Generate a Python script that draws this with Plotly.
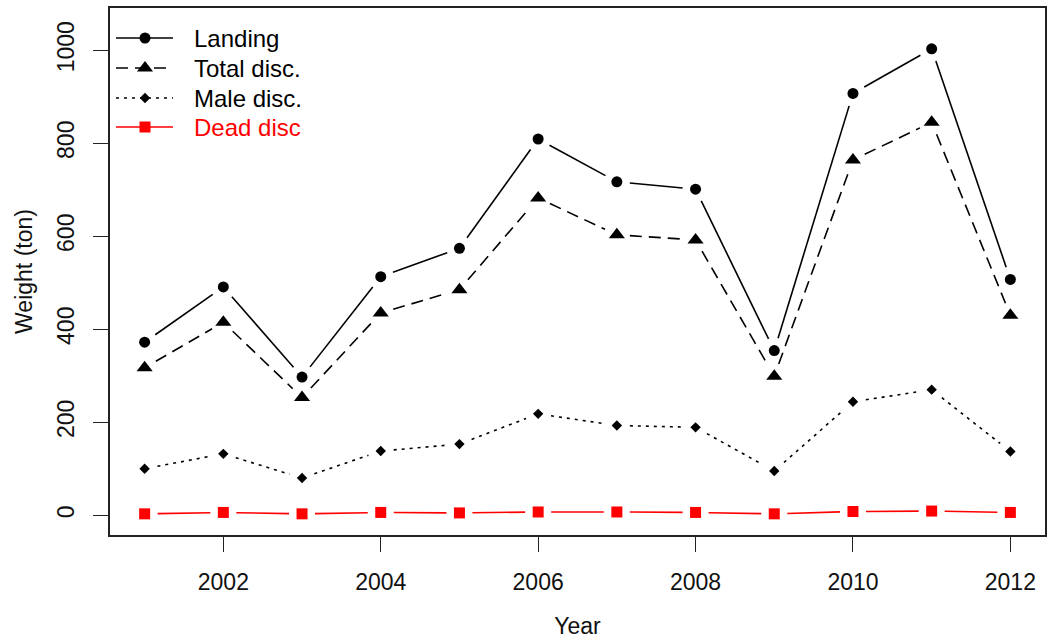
import math
import plotly.graph_objects as go

years = [2001, 2002, 2003, 2004, 2005, 2006, 2007, 2008, 2009, 2010, 2011, 2012]
landing = [372, 491, 297, 513, 574, 809, 717, 701, 354, 907, 1003, 507]
total_disc = [317, 415, 253, 435, 485, 682, 603, 592, 299, 764, 845, 430]
male_disc = [100, 132, 80, 138, 153, 218, 193, 189, 95, 244, 270, 137]
dead_disc = [3, 6, 3, 6, 5, 7, 7, 6, 3, 8, 9, 6]

series_names = ["Landing", "Total disc.", "Male disc.", "Dead disc"]
series_values = [landing, total_disc, male_disc, dead_disc]
colors = ["#000000", "#000000", "#000000", "#FF0000"]
dashes = ["solid", "12px,7px", "3px,5px", "solid"]
symbols = ["circle", "triangle-up", "diamond", "square"]
sizes = [11, 14, 8, 11]

FONT = "Liberation Sans, Arial, sans-serif"
W, H = 1049, 640
ML, MR, MT, MB = 110, 4, 8, 105
XR = [2000.56, 2012.44]
YR = [-42.5, 1090.7]
GAP = 13  # px gap between point and line ends (R type="b")

sx = (W - ML - MR) / (XR[1] - XR[0])
sy = (H - MT - MB) / (YR[1] - YR[0])


def gapped(xs, ys):
    gx, gy = [], []
    for i in range(len(xs) - 1):
        dx = (xs[i + 1] - xs[i]) * sx
        dy = (ys[i + 1] - ys[i]) * sy
        d = math.hypot(dx, dy)
        if d <= 2 * GAP:
            continue
        f = GAP / d
        gx += [xs[i] + (xs[i + 1] - xs[i]) * f, xs[i + 1] - (xs[i + 1] - xs[i]) * f, None]
        gy += [ys[i] + (ys[i + 1] - ys[i]) * f, ys[i + 1] - (ys[i + 1] - ys[i]) * f, None]
    return gx, gy


fig = go.Figure()

for name, vals, c, d, s, sz in zip(series_names, series_values, colors, dashes, symbols, sizes):
    gx, gy = gapped(years, vals)
    fig.add_trace(go.Scatter(x=gx, y=gy, mode="lines", name=name,
                             line=dict(color=c, width=1.6, dash=d),
                             showlegend=False, hoverinfo="skip"))
    fig.add_trace(go.Scatter(x=years, y=vals, mode="markers", name=name,
                             marker=dict(color=c, size=sz, symbol=s),
                             showlegend=False))

# manual legend on overlay pixel axes
leg_y = [38, 68, 98, 127]
for name, c, d, s, sz, ly in zip(series_names, colors, dashes, symbols, sizes, leg_y):
    fig.add_trace(go.Scatter(x=[116, 173], y=[ly, ly], mode="lines", xaxis="x2", yaxis="y2",
                             line=dict(color=c, width=1.6, dash=d),
                             showlegend=False, hoverinfo="skip"))
    fig.add_trace(go.Scatter(x=[145], y=[ly], mode="markers", xaxis="x2", yaxis="y2",
                             marker=dict(color=c, size=sz, symbol=s),
                             showlegend=False, hoverinfo="skip"))
    fig.add_annotation(x=192, y=ly, xref="x2", yref="y2", text=name, showarrow=False,
                       xanchor="left", yanchor="middle",
                       font=dict(family=FONT, size=24, color=c))

axis_common = dict(showgrid=False, zeroline=False, showline=True, linecolor="#222222",
                   linewidth=1.5, mirror=True, ticks="outside", ticklen=15,
                   tickwidth=1.3, tickcolor="#222222", automargin=False,
                   tickfont=dict(family=FONT, size=23, color="#111111"))

fig.update_layout(
    width=W, height=H,
    margin=dict(l=ML, r=MR, t=MT, b=MB, autoexpand=False),
    paper_bgcolor="white", plot_bgcolor="white",
    showlegend=False,
    xaxis=dict(range=XR, tickvals=[2002, 2004, 2006, 2008, 2010, 2012],
               title=dict(text="Year", font=dict(family=FONT, size=23, color="#111111"), standoff=24),
               ticklabelstandoff=11, **axis_common),
    yaxis=dict(range=YR, tickvals=[0, 200, 400, 600, 800, 1000], tickangle=-90,
               title=dict(text="Weight (ton)", font=dict(family=FONT, size=23, color="#111111"), standoff=14),
               ticklabelstandoff=10, **axis_common),
    xaxis2=dict(range=[ML, W - MR], overlaying="x", visible=False, fixedrange=True, automargin=False),
    yaxis2=dict(range=[H - MB, MT], overlaying="y", visible=False, fixedrange=True, automargin=False),
)

fig.write_html("out.html", config={"displayModeBar": False},
               post_script="document.body.style.margin='0';document.body.style.overflow='hidden';")
